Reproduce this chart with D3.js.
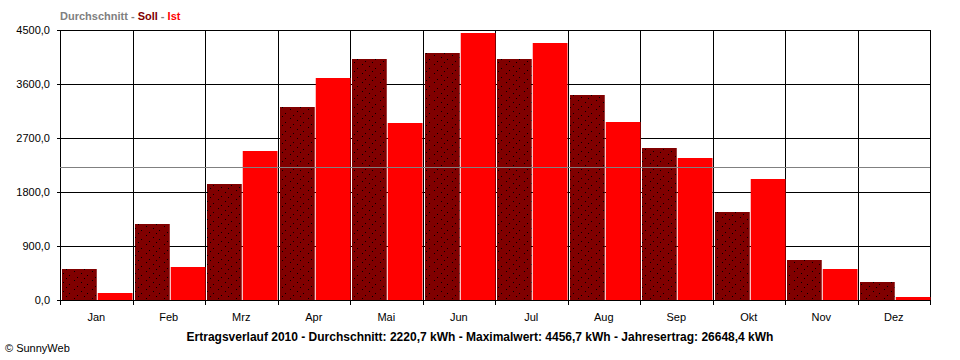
<!DOCTYPE html>
<html>
<head>
<meta charset="utf-8">
<script src="https://cdn.jsdelivr.net/npm/d3@7"></script>
<style>
  body { margin: 0; background: #fff; }
  text { font-family: "Liberation Sans", Arial, sans-serif; }
</style>
</head>
<body>
<svg id="chart"></svg>
<script>
// Monthly yield 2010 (kWh)
const months = ["Jan", "Feb", "Mrz", "Apr", "Mai", "Jun", "Jul", "Aug", "Sep", "Okt", "Nov", "Dez"];
const soll = [517, 1267, 1933, 3217, 4017, 4117, 4017, 3417, 2533, 1467, 667, 300];
const ist = [117, 556, 2483, 3700, 2950, 4456.7, 4283, 2967, 2367, 2017, 517, 50];
const average = 2220.7;
const yTicks = [0, 900, 1800, 2700, 3600, 4500];

const width = 960;
const height = 360;
const margin = { top: 30, right: 30, bottom: 60, left: 60 };

const svg = d3.select("#chart").attr("width", width).attr("height", height);

// dotted fill for the Soll bars
const defs = svg.append("defs");
const pat = defs.append("pattern")
  .attr("id", "dots")
  .attr("patternUnits", "userSpaceOnUse")
  .attr("width", 18)
  .attr("height", 9);
pat.append("rect").attr("width", 18).attr("height", 9).attr("fill", "#800000");
[[2, 1], [9, 3], [15, 5], [5, 7], [12, 8]].forEach(([px, py]) => {
  pat.append("rect").attr("x", px).attr("y", py).attr("width", 1).attr("height", 1).attr("fill", "#000");
});

const x = d3.scaleBand()
  .domain(months)
  .range([margin.left, width - margin.right]);

const y = d3.scaleLinear()
  .domain([0, 4500])
  .range([height - margin.bottom, margin.top]);

const x0 = margin.left, x1 = width - margin.right;
const y0 = height - margin.bottom, y1 = margin.top;

// horizontal grid + y labels
svg.append("g")
  .selectAll("line")
  .data(yTicks)
  .join("line")
  .attr("x1", x0 - 3)
  .attr("x2", x1)
  .attr("y1", d => Math.round(y(d)) + 0.5)
  .attr("y2", d => Math.round(y(d)) + 0.5)
  .attr("stroke", "#000");

svg.append("g")
  .selectAll("text")
  .data(yTicks)
  .join("text")
  .attr("x", x0 - 10)
  .attr("y", d => Math.round(y(d)) + 4)
  .attr("text-anchor", "end")
  .attr("font-size", 11)
  .text(d => d3.format(".1f")(d).replace(".", ","));

// vertical grid at month borders
const borders = months.map(m => x(m)).concat([x1]);
svg.append("g")
  .selectAll("line")
  .data(borders)
  .join("line")
  .attr("x1", d => Math.round(d) + 0.5)
  .attr("x2", d => Math.round(d) + 0.5)
  .attr("y1", y1)
  .attr("y2", y0 + 5)
  .attr("stroke", "#000");

// bars
const bw = (x.bandwidth() - 3) / 2;
svg.append("g")
  .selectAll("rect")
  .data(months)
  .join("rect")
  .attr("x", (d) => Math.round(x(d)) + 2)
  .attr("y", (d, i) => Math.round(y(soll[i])))
  .attr("width", bw)
  .attr("height", (d, i) => y0 - Math.round(y(soll[i])))
  .attr("fill", "url(#dots)");

svg.append("g")
  .selectAll("rect")
  .data(months)
  .join("rect")
  .attr("x", (d) => Math.round(x(d)) + 2 + bw + 1)
  .attr("y", (d, i) => Math.round(y(ist[i])))
  .attr("width", bw)
  .attr("height", (d, i) => y0 - Math.round(y(ist[i])))
  .attr("fill", "#ff0000");

// average line
svg.append("line")
  .attr("x1", x0)
  .attr("x2", x1)
  .attr("y1", Math.round(y(average)) + 0.5)
  .attr("y2", Math.round(y(average)) + 0.5)
  .attr("stroke", "#808080");

// month labels
svg.append("g")
  .selectAll("text")
  .data(months)
  .join("text")
  .attr("x", d => x(d) + x.bandwidth() / 2)
  .attr("y", y0 + 21)
  .attr("text-anchor", "middle")
  .attr("font-size", 11)
  .text(d => d);

// legend at top
const legend = svg.append("text")
  .attr("x", x0)
  .attr("y", 20)
  .attr("font-size", 11)
  .attr("font-weight", "bold");
legend.append("tspan").attr("fill", "#808080").text("Durchschnitt - ");
legend.append("tspan").attr("fill", "#800000").text("Soll");
legend.append("tspan").attr("fill", "#808080").text(" - ");
legend.append("tspan").attr("fill", "#ff0000").text("Ist");

// bottom title
svg.append("text")
  .attr("x", 480)
  .attr("y", 341)
  .attr("text-anchor", "middle")
  .attr("font-size", 12)
  .attr("font-weight", "bold")
  .text("Ertragsverlauf 2010 - Durchschnitt: 2220,7 kWh - Maximalwert: 4456,7 kWh - Jahresertrag: 26648,4 kWh");

svg.append("text")
  .attr("x", 5)
  .attr("y", 352)
  .attr("font-size", 11)
  .text("© SunnyWeb");
</script>
</body>
</html>
